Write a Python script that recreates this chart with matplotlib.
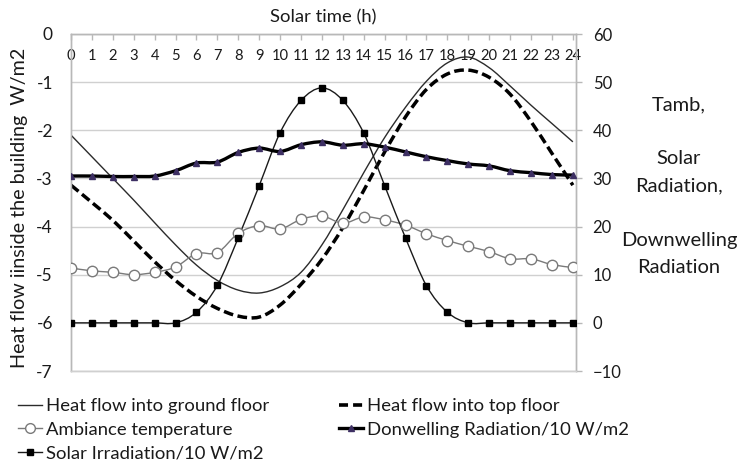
import matplotlib
matplotlib.use("Agg")
import matplotlib.pyplot as plt
from matplotlib.path import Path
from matplotlib.patches import PathPatch
from matplotlib.lines import Line2D
import numpy as np

plt.rcParams['font.family'] = ['Lato', 'DejaVu Sans']

hours = list(range(25))

# Heat flow (W/m2), left axis
heat_ground = [-2.10, -2.55, -3.00, -3.45, -3.92, -4.38, -4.80, -5.12, -5.32, -5.38,
               -5.25, -4.95, -4.38, -3.65, -2.88, -2.15, -1.52, -0.98, -0.60, -0.48,
               -0.70, -1.08, -1.48, -1.86, -2.24]
heat_top = [-3.14, -3.50, -3.87, -4.30, -4.73, -5.12, -5.45, -5.70, -5.86, -5.88,
            -5.63, -5.20, -4.68, -4.02, -3.25, -2.45, -1.72, -1.15, -0.83, -0.75,
            -0.90, -1.25, -1.82, -2.48, -3.14]

# Right axis series
tamb = [11.4, 10.8, 10.5, 10.0, 10.5, 11.6, 14.4, 14.6, 18.6, 20.2,
        19.5, 21.5, 22.2, 20.7, 22.0, 21.4, 20.3, 18.5, 17.1, 15.9,
        14.8, 13.3, 13.3, 12.1, 11.5]
solar = [0, 0, 0, 0, 0, 0, 2.2, 7.8, 17.7, 28.5,
         39.5, 46.2, 48.8, 46.2, 39.4, 28.5, 17.6, 7.7, 2.2, 0,
         0, 0, 0, 0, 0]
downwelling = [30.5, 30.5, 30.4, 30.4, 30.5, 31.6, 33.2, 33.4, 35.4, 36.3,
               35.6, 37.0, 37.6, 36.9, 37.2, 36.5, 35.5, 34.5, 33.7, 33.0,
               32.6, 31.6, 31.2, 30.8, 30.7]

legend_labels = ["Heat flow into ground floor", "Heat flow into top floor",
                 "Ambiance temperature", "Donwelling Radiation/10 W/m2",
                 "Solar Irradiation/10 W/m2"]


def smooth_path(x, y):
    """Bezier path through every point (spreadsheet-style smoothed line)."""
    x = np.asarray(x, float)
    y = np.asarray(y, float)
    n = len(x)
    verts = [(x[0], y[0])]
    codes = [Path.MOVETO]
    for i in range(n - 1):
        a = i - 1 if i > 0 else i
        d = i + 2 if i + 2 < n else i + 1
        c1 = (x[i] + (x[i + 1] - x[a]) / 6.0, y[i] + (y[i + 1] - y[a]) / 6.0)
        c2 = (x[i + 1] - (x[d] - x[i]) / 6.0, y[i + 1] - (y[d] - y[i]) / 6.0)
        verts += [c1, c2, (x[i + 1], y[i + 1])]
        codes += [Path.CURVE4] * 3
    return Path(verts, codes)


def add_curve(ax, x, y, **kw):
    patch = PathPatch(smooth_path(x, y), fill=False, **kw)
    ax.add_patch(patch)
    return patch


fig = plt.figure(figsize=(7.42, 4.74), dpi=100)
ax = fig.add_axes([71 / 742, 1 - 371 / 474, (576 - 71) / 742, (371 - 34) / 474])
ax2 = ax.twinx()

grid_c = '#d0d0d0'
spine_c = '#b8b8b8'
txt_c = '#1a1a1a'

ax.set_xlim(0, 24.15)
ax.set_ylim(-7, 0)
ax2.set_ylim(-10, 60)

ax.set_yticks(range(-7, 1))
ax.set_yticklabels([str(v) for v in range(-7, 1)])
ax2.set_yticks(range(-10, 61, 10))
ax.set_xticks(hours)
ax.set_xticklabels([str(h) for h in hours])

for a in (ax, ax2):
    for s in a.spines.values():
        s.set_color(spine_c)
        s.set_linewidth(1.0)
ax.spines['bottom'].set_color(grid_c)
ax2.spines['bottom'].set_color(grid_c)

ax.grid(axis='y', color=grid_c, linewidth=1.0)
ax.set_axisbelow(True)

ax.tick_params(axis='y', length=0, pad=13, labelsize=12.5, labelcolor=txt_c)
ax2.tick_params(axis='y', length=4, width=1, color=spine_c, pad=8,
                labelsize=12, labelcolor=txt_c)
ax.tick_params(axis='x', bottom=False, labelbottom=False, top=True, labeltop=True,
               direction='in', length=4, width=1, color=spine_c,
               pad=-21, labelsize=10.6, labelcolor=txt_c)

# Heat flows on the left axis
add_curve(ax, hours, heat_ground, edgecolor='#2b2b2b', linewidth=1.0, zorder=3)
add_curve(ax, hours, heat_top, edgecolor='black', linewidth=2.5,
          linestyle=(0, (2.8, 1.3)), zorder=3)

# Temperature and radiation on the right axis
add_curve(ax2, hours, tamb, edgecolor='#7a7a7a', linewidth=1.0, zorder=2)
ax2.plot(hours, tamb, ls='none', marker='o', markersize=7.5,
         markerfacecolor='white', markeredgecolor='#7a7a7a', markeredgewidth=1.0, zorder=4)

add_curve(ax2, hours, solar, edgecolor='#1a1a1a', linewidth=1.0, zorder=2)
ax2.plot(hours, solar, ls='none', marker='s', markersize=5,
         color='black', zorder=4)

add_curve(ax2, hours, downwelling, edgecolor='black', linewidth=2.4, zorder=3)
ax2.plot(hours, downwelling, ls='none', marker='^', markersize=4,
         color='#3d2f63', zorder=5)

# Titles
fig.text(323 / 742, 1 - 17 / 474, "Solar time (h)", ha='center', va='center',
         fontsize=13.3, color=txt_c)
fig.text(20 / 742, 1 - 208 / 474, "Heat flow iinside the building  W/m2",
         rotation=90, ha='center', va='center', fontsize=14.2, color=txt_c)
fig.text(679 / 742, 1 - 186 / 474,
         "Tamb,\n\nSolar\nRadiation,\n\nDownwelling\nRadiation",
         ha='center', va='center', fontsize=14.5, linespacing=1.72, color=txt_c)

# Legend
h_ground = Line2D([], [], color='#2b2b2b', linewidth=1.0)
h_top = Line2D([], [], color='black', linewidth=2.6, linestyle=(0, (2.5, 1.4)))
h_tamb = Line2D([], [], color='#7a7a7a', linewidth=1.0, marker='o', markersize=7,
                markerfacecolor='white', markeredgecolor='#7a7a7a')
h_down = Line2D([], [], color='black', linewidth=2.4, marker='^', markersize=4,
                markerfacecolor='#3d2f63', markeredgecolor='#3d2f63')
h_solar = Line2D([], [], color='#1a1a1a', linewidth=1.0, marker='s', markersize=5,
                 markerfacecolor='black', markeredgecolor='black')

handles = [h_ground, h_tamb, h_solar, h_top, h_down]
labels = [legend_labels[0], legend_labels[2], legend_labels[4],
          legend_labels[1], legend_labels[3]]
fig.legend(handles, labels, loc='upper left', bbox_to_anchor=(18 / 742, 1 - 398 / 474),
           ncol=2, frameon=False, fontsize=13.3, handlelength=1.3, handletextpad=0.2,
           columnspacing=3.8, labelspacing=0.42, numpoints=1, borderaxespad=0,
           borderpad=0, labelcolor=txt_c)

fig.savefig("out.png", dpi=100)
